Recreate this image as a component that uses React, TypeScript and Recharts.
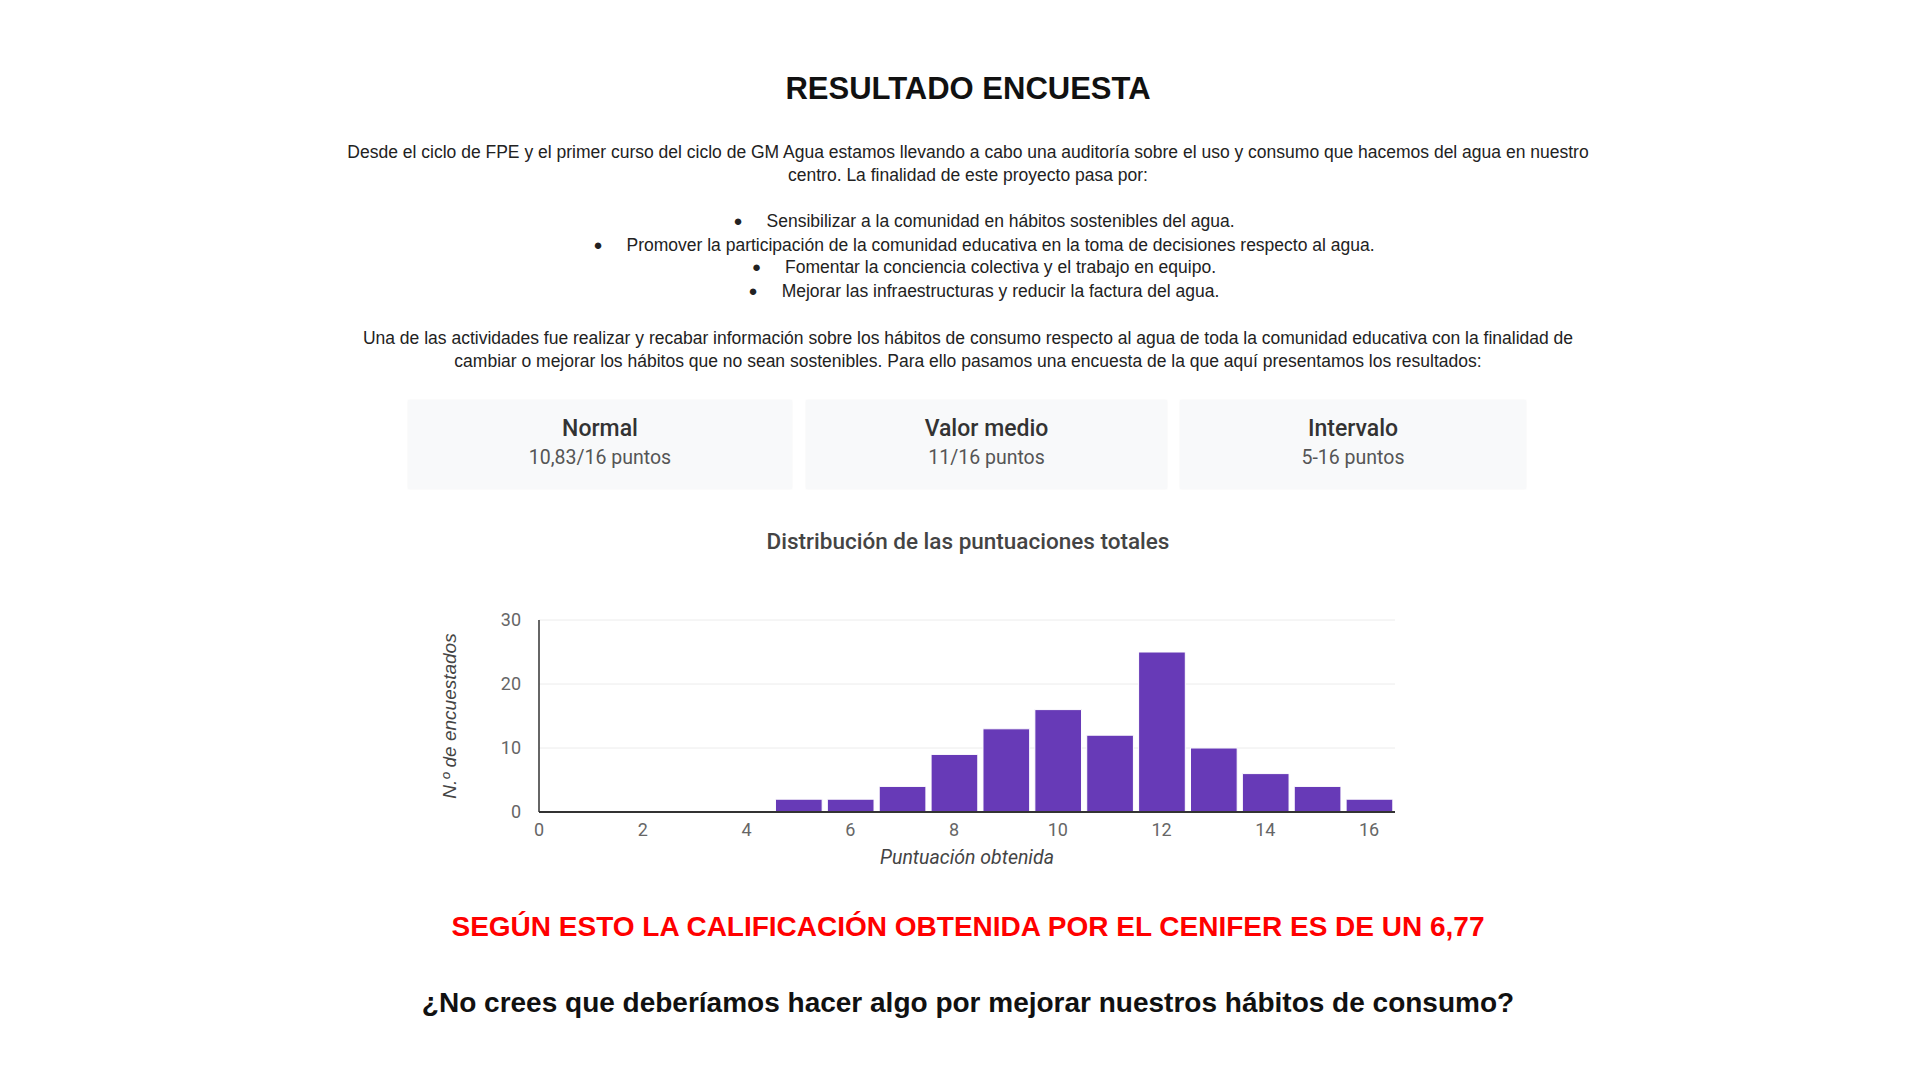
import React from "react";
import { BarChart, Bar, XAxis, YAxis, CartesianGrid } from "recharts";

const scores = [5, 6, 7, 8, 9, 10, 11, 12, 13, 14, 15, 16];
const respondents = [2, 2, 4, 9, 13, 16, 12, 25, 10, 6, 4, 2];
const xTicks = [0, 2, 4, 6, 8, 10, 12, 14, 16];
const yTicks = [0, 10, 20, 30];

const paragraph1 = [
    "Desde el ciclo de FPE y el primer curso del ciclo de GM Agua estamos llevando a cabo una auditoría sobre el uso y consumo que hacemos del agua en nuestro",
    "centro. La finalidad de este proyecto pasa por:"
];
const bullets = [
    "Sensibilizar a la comunidad en hábitos sostenibles del agua.",
    "Promover la participación de la comunidad educativa en la toma de decisiones respecto al agua.",
    "Fomentar la conciencia colectiva y el trabajo en equipo.",
    "Mejorar las infraestructuras y reducir la factura del agua."
];
const paragraph2 = [
    "Una de las actividades fue realizar y recabar información sobre los hábitos de consumo respecto al agua de toda la comunidad educativa con la finalidad de",
    "cambiar o mejorar los hábitos que no sean sostenibles. Para ello pasamos una encuesta de la que aquí presentamos los resultados:"
];
const cardTitles = ["Normal", "Valor medio", "Intervalo"];
const cardValues = ["10,83/16 puntos", "11/16 puntos", "5-16 puntos"];

const data = scores.map((score, i) => ({ score, count: respondents[i] }));

const CHART_W = 1000;
const CHART_H = 300;
const MARGIN = { top: 30, right: 25, left: 0, bottom: 18 };
const Y_AXIS_W = 119;
const X_DOMAIN: [number, number] = [0, 16.5];
const PLOT_W = CHART_W - MARGIN.left - MARGIN.right - Y_AXIS_W;
const BAR_SIZE = PLOT_W / (X_DOMAIN[1] - X_DOMAIN[0]);

const cardBoxes = [
    { left: 408, width: 384 },
    { left: 806, width: 361 },
    { left: 1180, width: 346 }
];

const textFont = "'Liberation Sans', Arial, sans-serif";
const roboto = "Roboto, 'Noto Sans', sans-serif";

const Line = ({ y, children, style }: { y: number; children: React.ReactNode; style?: React.CSSProperties }) => (
    <div
        style={{
            position: "absolute",
            left: 0,
            width: 1936,
            top: y - 15,
            height: 30,
            lineHeight: "30px",
            textAlign: "center",
            whiteSpace: "nowrap",
            fontFamily: textFont,
            fontSize: 17.5,
            color: "#222",
            ...style
        }}
    >
        {children}
    </div>
);

const renderYLabel = (props: any) => {
    const vb = props.viewBox || { x: 420, y: 620, width: Y_AXIS_W, height: 192 };
    const cx = vb.x + 29;
    const cy = vb.y + vb.height / 2;
    return (
        <text
            x={cx}
            y={cy}
            transform={`rotate(-90, ${cx}, ${cy})`}
            textAnchor="middle"
            dominantBaseline="central"
            fontFamily={textFont}
            fontStyle="italic"
            fontSize={19}
            fill="#444"
        >
            N.º de encuestados
        </text>
    );
};

export default function App() {
    return (
        <div style={{ position: "absolute", left: 0, top: 0, width: 1920, height: 1080, background: "#fff", overflow: "hidden" }}>
            <Line y={89} style={{ fontSize: 31, fontWeight: 700, color: "#111" }}>RESULTADO ENCUESTA</Line>

            {paragraph1.map((t, i) => (
                <Line key={"p1" + i} y={152 + i * 23}>{t}</Line>
            ))}

            {bullets.map((t, i) => (
                <Line key={"b" + i} y={[221, 245, 267, 291][i]} style={{ left: 16 }}>
                    <span style={{ fontSize: 15, marginRight: 24, position: "relative", top: -1 }}>●</span>
                    {t}
                </Line>
            ))}

            {paragraph2.map((t, i) => (
                <Line key={"p2" + i} y={338 + i * 23}>{t}</Line>
            ))}

            {cardBoxes.map((box, i) => (
                <div
                    key={"c" + i}
                    style={{
                        position: "absolute",
                        left: box.left,
                        width: box.width,
                        top: 400,
                        height: 89,
                        background: "#f8f9fa",
                        boxShadow: "0 0 2px rgba(0,0,0,0.05)",
                        fontFamily: roboto,
                        textAlign: "center"
                    }}
                >
                    <div style={{ position: "absolute", left: 0, right: 0, top: 14, lineHeight: "30px", fontSize: 23, fontWeight: 500, color: "#333" }}>
                        {cardTitles[i]}
                    </div>
                    <div style={{ position: "absolute", left: 0, right: 0, top: 45, lineHeight: "26px", fontSize: 19.5, color: "#555" }}>
                        {cardValues[i]}
                    </div>
                </div>
            ))}

            <Line y={541} style={{ fontFamily: roboto, fontSize: 22.5, fontWeight: 500, color: "#444" }}>
                Distribución de las puntuaciones totales
            </Line>

            <div style={{ position: "absolute", left: 420, top: 590 }}>
                <BarChart width={CHART_W} height={CHART_H} data={data} margin={MARGIN} barGap={0} barCategoryGap={0}>
                    <CartesianGrid vertical={false} stroke="#ececec" />
                    <XAxis
                        type="number"
                        dataKey="score"
                        domain={X_DOMAIN}
                        ticks={xTicks}
                        allowDataOverflow
                        height={60}
                        tickLine={false}
                        axisLine={{ stroke: "#333", strokeWidth: 2 }}
                        tick={{ fill: "#666", fontSize: 18, fontFamily: roboto }}
                        tickMargin={5}
                        label={{
                            value: "Puntuación obtenida",
                            position: "insideBottom",
                            offset: 8,
                            fill: "#444",
                            fontSize: 19.5,
                            fontStyle: "italic",
                            fontFamily: roboto
                        }}
                    />
                    <YAxis
                        type="number"
                        domain={[0, 30]}
                        ticks={yTicks}
                        width={Y_AXIS_W}
                        tickLine={false}
                        axisLine={{ stroke: "#333", strokeWidth: 1.5 }}
                        tick={{ fill: "#666", fontSize: 18, fontFamily: roboto }}
                        tickMargin={12}
                        label={renderYLabel}
                    />
                    <Bar
                        dataKey="count"
                        fill="#673ab7"
                        stroke="#ffffff"
                        strokeWidth={1}
                        barSize={BAR_SIZE}
                        isAnimationActive={false}
                    />
                </BarChart>
            </div>

            <Line y={927} style={{ fontSize: 28, fontWeight: 700, color: "#ff0000" }}>
                SEGÚN ESTO LA CALIFICACIÓN OBTENIDA POR EL CENIFER ES DE UN 6,77
            </Line>
            <Line y={1003} style={{ fontSize: 28, fontWeight: 700, color: "#111" }}>
                ¿No crees que deberíamos hacer algo por mejorar nuestros hábitos de consumo?
            </Line>
        </div>
    );
}
